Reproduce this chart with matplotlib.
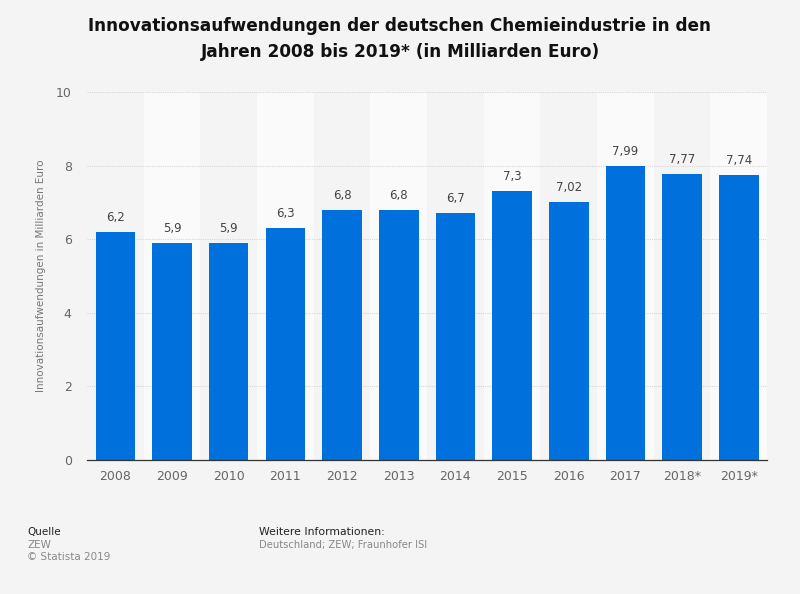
import matplotlib.pyplot as plt
import numpy as np

years = ["2008", "2009", "2010", "2011", "2012", "2013", "2014", "2015",
         "2016", "2017", "2018*", "2019*"]
values = [6.2, 5.9, 5.9, 6.3, 6.8, 6.8, 6.7, 7.3, 7.02, 7.99, 7.77, 7.74]
labels = ["6,2", "5,9", "5,9", "6,3", "6,8", "6,8", "6,7", "7,3", "7,02",
          "7,99", "7,77", "7,74"]

bg = "#f4f4f4"
fig = plt.figure(figsize=(8, 5.94), dpi=100, facecolor=bg)
ax = fig.add_axes([87 / 800, 1 - 460 / 594, 680 / 800, 368 / 594])
ax.set_facecolor(bg)

x = np.arange(len(years))
# alternating column bands
for i in x:
    if i % 2 == 1:
        ax.axvspan(i - 0.5, i + 0.5, color="#fafafa", zorder=0, lw=0)

ax.set_ylim(0, 10)
ax.set_xlim(-0.5, len(years) - 0.5)
ax.set_yticks([0, 2, 4, 6, 8, 10])
ax.grid(axis="y", color="#d8d8d8", linestyle=(0, (1, 1)), linewidth=0.8, zorder=1)
ax.set_axisbelow(True)

ax.bar(x, values, width=0.7, color="#0071dc", zorder=2)
for xi, v, lab in zip(x, values, labels):
    ax.text(xi, v + 0.22, lab, ha="center", va="bottom", fontsize=8.5, color="#444444")

ax.set_xticks(x)
ax.set_xticklabels(years)
ax.tick_params(axis="both", length=0, labelsize=9, labelcolor="#666666")
ax.tick_params(axis="y", pad=11)
ax.tick_params(axis="x", pad=7)
for s in ["top", "right", "left"]:
    ax.spines[s].set_visible(False)
ax.spines["bottom"].set_color("#333333")
ax.spines["bottom"].set_linewidth(0.9)

ax.set_ylabel("Innovationsaufwendungen in Milliarden Euro", fontsize=7.5,
              color="#777777", labelpad=7)

fig.text(0.5, 0.972, "Innovationsaufwendungen der deutschen Chemieindustrie in den\n"
         "Jahren 2008 bis 2019* (in Milliarden Euro)",
         ha="center", va="top", fontsize=12.2, fontweight="bold", color="#111111",
         linespacing=1.62)

fig.text(27 / 800, 1 - 532 / 594, "Quelle", fontsize=7.5, color="#222222", va="center")
fig.text(27 / 800, 1 - 545 / 594, "ZEW", fontsize=7.5, color="#888888", va="center")
fig.text(27 / 800, 1 - 557 / 594, "© Statista 2019", fontsize=7.5, color="#888888", va="center")
fig.text(259 / 800, 1 - 532 / 594, "Weitere Informationen:", fontsize=7.8, color="#222222", va="center")
fig.text(259 / 800, 1 - 545 / 594, "Deutschland; ZEW; Fraunhofer ISI", fontsize=7.2,
         color="#888888", va="center")

fig.savefig("out.png", dpi=100, facecolor=bg)
